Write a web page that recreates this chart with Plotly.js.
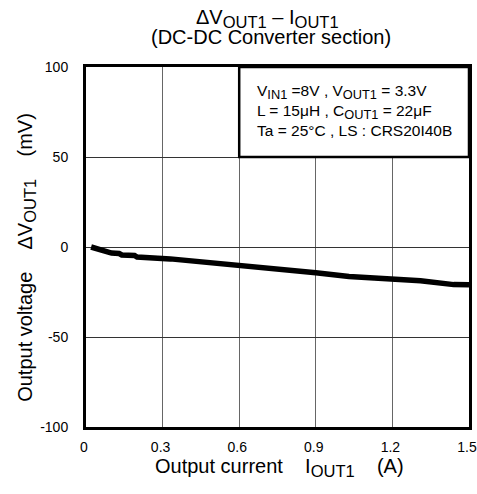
<!DOCTYPE html>
<html>
<head>
<meta charset="utf-8">
<script src="https://cdn.plot.ly/plotly-3.0.1.min.js"></script>
<style>html,body{margin:0;padding:0;background:#fff;}#chart{width:477px;height:494px;}</style>
</head>
<body>
<div id="chart"></div>
<script>
const currentA = [0.02, 0.06, 0.10, 0.13, 0.14, 0.19, 0.20, 0.33, 0.60, 0.90, 1.03, 1.20, 1.31, 1.44, 1.50];
const deltaVmV = [0, -2.0, -3.4, -3.6, -4.4, -4.7, -5.6, -6.6, -10.0, -14.3, -16.4, -17.8, -18.7, -20.9, -21.0];
const xTicks = [0, 0.3, 0.6, 0.9, 1.2, 1.5];
const xTickText = ['0', '0.3', '0.6', '0.9', '1.2', '1.5'];
const yTicks = [-100, -50, 0, 50, 100];
const yTickText = ['-100', '-50', '0', '50', '100'];

function sub(s) { return '<sub><span style="font-size:118%">' + s + '</span></sub>'; }

const conditionLines = [
  'V' + sub('IN1') + ' =8V , V' + sub('OUT1') + ' = 3.3V',
  'L = 15μH , C' + sub('OUT1') + ' = 22μF',
  'Ta = 25°C , LS : CRS20I40B'
];
const titleLine1 = 'ΔV' + sub('OUT1') + ' – I' + sub('OUT1');
const titleLine2 = '(DC-DC Converter section)';
const xTitleText = 'Output current    I' + sub('OUT1') + '    (A)';
const yTitleText = 'Output voltage    ΔV' + sub('OUT1') + '    (mV)';

const font = 'Liberation Sans, Arial, sans-serif';

const trace = {
  x: currentA, y: deltaVmV, type: 'scatter', mode: 'lines',
  line: {color: '#000', width: 5.5}, hoverinfo: 'skip'
};

const layout = {
  width: 477, height: 494,
  margin: {l: 86, r: 8, t: 67, b: 67},
  paper_bgcolor: '#fff', plot_bgcolor: '#fff',
  font: {family: font, color: '#000', size: 14},
  showlegend: false,
  xaxis: {
    range: [0, 1.5], tickmode: 'array', tickvals: xTicks, ticktext: xTickText,
    showgrid: true, gridcolor: '#666', gridwidth: 1, zeroline: false,
    showline: true, linecolor: '#000', linewidth: 3, mirror: true,
    ticks: '', ticklabelstandoff: 5, ticklabelshift: -2, ticklabeloverflow: 'allow',
    tickfont: {family: font, size: 14}
  },
  yaxis: {
    range: [-100, 100], tickmode: 'array', tickvals: yTicks, ticktext: yTickText,
    showgrid: true, gridcolor: '#333', gridwidth: 1, zeroline: false,
    showline: true, linecolor: '#000', linewidth: 3, mirror: true,
    ticks: '', ticklabelstandoff: 12,
    tickfont: {family: font, size: 14}
  },
  shapes: [{
    type: 'rect', xref: 'paper', yref: 'paper', x0: 0.4, x1: 1, y0: 0.75, y1: 1,
    line: {color: '#000', width: 2.5}, fillcolor: '#fff', layer: 'above'
  }],
  annotations: [
    {
      xref: 'paper', yref: 'paper', x: 0.475, y: 1.133, xanchor: 'center', yanchor: 'middle',
      showarrow: false, text: titleLine1,
      font: {family: font, size: 20, color: '#000'}
    },
    {
      xref: 'paper', yref: 'paper', x: 0.483, y: 1.084, xanchor: 'center', yanchor: 'middle',
      showarrow: false, text: titleLine2,
      font: {family: font, size: 20, color: '#000'}
    },
    {
      xref: 'paper', yref: 'paper', x: 0.5065, y: -0.113, xanchor: 'center', yanchor: 'middle',
      showarrow: false, text: xTitleText,
      font: {family: font, size: 20, color: '#000'}
    },
    {
      xref: 'paper', yref: 'paper', x: -0.154, y: 0.47, xanchor: 'center', yanchor: 'middle',
      textangle: -90, showarrow: false, text: yTitleText,
      font: {family: font, size: 20, color: '#000'}
    },
    {
      xref: 'paper', yref: 'paper', x: 0.441, y: 0.963, xanchor: 'left', yanchor: 'top',
      align: 'left', showarrow: false,
      text: conditionLines.join('<br>'),
      font: {family: font, size: 15.5, color: '#000'}
    }
  ]
};

Plotly.newPlot('chart', [trace], layout, {displayModeBar: false, staticPlot: true});
</script>
</body>
</html>
